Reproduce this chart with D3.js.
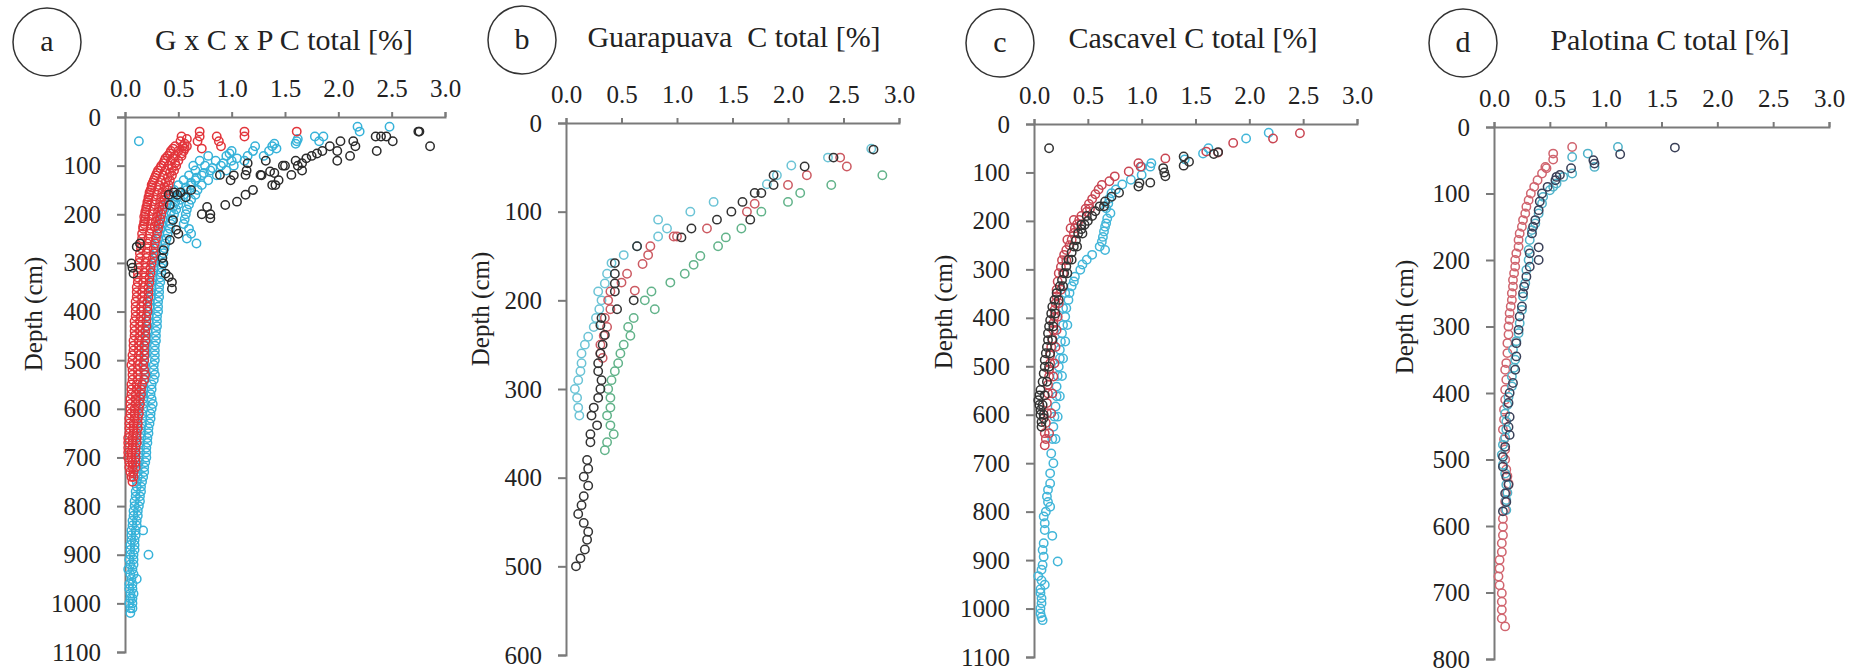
<!DOCTYPE html>
<html>
<head>
<meta charset="utf-8">
<script src="https://cdn.jsdelivr.net/npm/d3@7"></script>
<style>
  body { margin: 0; background: #fff; }
</style>
</head>
<body>
<div id="chart-container"></div>
<script>
// depth profiles of total carbon, four panels side by side
// each row is [depth (cm), C total %, C total %, ...]
const svgWidth = 1865;
const svgHeight = 672;
const serif = "'Liberation Serif', 'Times New Roman', 'DejaVu Serif', serif";

const xTicks = [0, 0.5, 1.0, 1.5, 2.0, 2.5, 3.0];

// ---- panel a : G x C x P ----
const aBlack = [
  [30, 2.75, 2.76], [60, 2.86], [40, 2.35, 2.40, 2.45], [50, 2.51, 2.14, 2.02], [70, 2.36, 1.99, 1.85],
  [60, 2.16, 1.92], [80, 2.11, 1.75], [90, 1.99, 1.60, 1.32], [75, 1.80], [85, 1.70], [95, 1.66, 1.15],
  [100, 1.62, 1.50, 1.48], [110, 1.66, 1.14], [112, 1.36], [115, 1.40], [119, 1.56, 1.27, 1.13, 0.89],
  [120, 1.28, 1.02], [130, 0.99, 1.44], [140, 1.41, 1.38], [150, 1.20, 0.62], [155, 0.52, 0.46],
  [160, 1.13, 0.49, 0.41], [165, 0.57], [174, 1.05], [181, 0.94, 0.42], [185, 0.77], [200, 0.80, 0.72],
  [208, 0.80], [212, 0.45], [232, 0.48], [253, 0.42], [260, 0.14], [267, 0.11], [274, 0.36], [290, 0.35],
  [301, 0.06, 0.36], [310, 0.07], [322, 0.08, 0.38], [329, 0.41], [340, 0.44], [353, 0.44], [240, 0.50]
];
const aCyan = [
  [20, 2.18, 2.48], [30, 2.20], [40, 1.78, 1.86], [45, 1.62], [50, 1.82, 1.61, 0.13], [55, 1.40, 1.60],
  [60, 1.38, 1.22], [65, 1.42], [70, 1.20, 1.35, 1.00], [75, 0.98], [80, 0.95, 1.15, 1.30, 0.78],
  [85, 1.05], [90, 0.85, 1.00, 1.12, 0.70], [95, 0.92], [100, 0.75, 0.90, 1.02, 0.64], [105, 0.82],
  [110, 0.66, 0.80, 0.95], [115, 0.74], [120, 0.60, 0.72, 0.86], [125, 0.67], [130, 0.55, 0.66, 0.78],
  [135, 0.62], [140, 0.50, 0.62, 0.72], [145, 0.57], [150, 0.46, 0.58, 0.68], [155, 0.53],
  [160, 0.43, 0.55, 0.66], [165, 0.49], [170, 0.41, 0.52, 0.62], [175, 0.47], [180, 0.39, 0.50, 0.60],
  [185, 0.45], [190, 0.37, 0.48, 0.58], [195, 0.43], [200, 0.36, 0.46, 0.57], [210, 0.35, 0.44, 0.56],
  [220, 0.34, 0.43, 0.55], [230, 0.33, 0.42, 0.60], [240, 0.32, 0.40, 0.62], [250, 0.31, 0.39, 0.58],
  [260, 0.30, 0.38, 0.67], [270, 0.29, 0.37], [280, 0.29, 0.36], [290, 0.28, 0.35], [300, 0.27, 0.35],
  [310, 0.27, 0.34], [320, 0.26, 0.34], [330, 0.26, 0.33], [340, 0.25, 0.33], [350, 0.25, 0.32],
  [360, 0.24, 0.32], [370, 0.24, 0.32], [380, 0.23, 0.31], [390, 0.23, 0.31], [400, 0.22, 0.31],
  [410, 0.22, 0.30], [420, 0.22, 0.30], [430, 0.21, 0.30], [440, 0.21, 0.29], [450, 0.20, 0.29],
  [460, 0.20, 0.29], [470, 0.19, 0.28], [480, 0.19, 0.28], [490, 0.19, 0.28], [500, 0.18, 0.28],
  [510, 0.18, 0.27], [520, 0.18, 0.27], [530, 0.18, 0.28], [540, 0.18, 0.27], [550, 0.17, 0.25],
  [560, 0.17, 0.25], [570, 0.17, 0.24], [580, 0.17, 0.25], [590, 0.17, 0.26], [600, 0.17, 0.25],
  [610, 0.16, 0.24], [620, 0.16, 0.24], [630, 0.16, 0.23], [640, 0.15, 0.22], [650, 0.15, 0.22],
  [660, 0.15, 0.21], [670, 0.14, 0.21], [680, 0.14, 0.20], [690, 0.14, 0.20], [700, 0.13, 0.20],
  [710, 0.13, 0.19], [720, 0.12, 0.18], [730, 0.12, 0.18], [740, 0.12, 0.17], [750, 0.11, 0.16],
  [760, 0.11, 0.15], [770, 0.10, 0.15], [780, 0.10, 0.14], [790, 0.09, 0.14], [800, 0.09, 0.13],
  [810, 0.08, 0.12], [820, 0.08, 0.12], [830, 0.07, 0.11], [840, 0.07, 0.11], [850, 0.06, 0.10, 0.17],
  [860, 0.06, 0.10], [870, 0.06, 0.09], [880, 0.05, 0.09], [890, 0.05, 0.09], [900, 0.05, 0.08, 0.22],
  [910, 0.04, 0.08], [920, 0.05, 0.08], [930, 0.03, 0.07], [940, 0.05, 0.08], [950, 0.06, 0.11],
  [960, 0.04, 0.07], [970, 0.04, 0.07], [980, 0.05, 0.08], [990, 0.05, 0.07], [1000, 0.04, 0.07],
  [1010, 0.05, 0.07], [1020, 0.05]
];
const aRed = [
  [30, 0.70, 1.12, 1.61], [40, 0.53, 0.70, 0.86, 1.12], [45, 0.58], [50, 0.52, 0.68, 0.88], [55, 0.56],
  [60, 0.47, 0.54, 0.58, 0.90], [65, 0.45, 0.56, 0.72], [70, 0.43, 0.50, 0.55], [75, 0.42, 0.53],
  [80, 0.40, 0.47, 0.53], [85, 0.38, 0.45], [90, 0.37, 0.43, 0.50], [95, 0.36, 0.47],
  [100, 0.34, 0.41, 0.48], [105, 0.33, 0.44], [110, 0.31, 0.38, 0.46], [115, 0.30, 0.42],
  [120, 0.29, 0.36, 0.44], [125, 0.28, 0.40], [130, 0.27, 0.34, 0.42], [135, 0.26, 0.38],
  [140, 0.25, 0.32, 0.41], [145, 0.25, 0.37], [150, 0.24, 0.31, 0.40], [155, 0.23, 0.35],
  [160, 0.23, 0.30, 0.38], [165, 0.22, 0.34], [170, 0.22, 0.29, 0.37], [175, 0.21, 0.33],
  [180, 0.21, 0.28, 0.36], [185, 0.20, 0.32], [190, 0.20, 0.27, 0.35], [195, 0.19, 0.31],
  [200, 0.19, 0.26, 0.34], [205, 0.18, 0.30], [210, 0.19, 0.25, 0.33], [215, 0.18, 0.29],
  [220, 0.18, 0.24, 0.32], [225, 0.17, 0.28], [230, 0.17, 0.24, 0.31], [240, 0.16, 0.23, 0.30],
  [250, 0.16, 0.22, 0.29], [260, 0.15, 0.21, 0.28], [270, 0.15, 0.21, 0.27], [280, 0.14, 0.20, 0.27],
  [290, 0.14, 0.20, 0.26], [300, 0.13, 0.19, 0.25], [310, 0.13, 0.19, 0.24], [320, 0.12, 0.18, 0.24],
  [330, 0.12, 0.18, 0.23], [340, 0.12, 0.17, 0.23], [350, 0.11, 0.17, 0.22], [360, 0.11, 0.16, 0.22],
  [370, 0.11, 0.16, 0.22], [380, 0.10, 0.16, 0.21], [390, 0.10, 0.15, 0.21], [400, 0.10, 0.15, 0.21],
  [410, 0.10, 0.15, 0.20], [420, 0.09, 0.14, 0.20], [430, 0.09, 0.14, 0.20], [440, 0.09, 0.14, 0.19],
  [450, 0.09, 0.14, 0.19], [460, 0.08, 0.13, 0.19], [470, 0.08, 0.13, 0.18], [480, 0.08, 0.13, 0.18],
  [490, 0.07, 0.13, 0.18], [500, 0.07, 0.12, 0.18], [510, 0.06, 0.12, 0.17], [520, 0.07, 0.12, 0.18],
  [530, 0.07, 0.12, 0.19], [540, 0.07, 0.12, 0.18], [550, 0.06, 0.11, 0.16], [560, 0.06, 0.11, 0.15],
  [570, 0.06, 0.10, 0.15], [580, 0.05, 0.10, 0.14], [590, 0.05, 0.10, 0.14], [600, 0.05, 0.09, 0.13],
  [610, 0.05, 0.09, 0.13], [620, 0.04, 0.09, 0.12], [630, 0.04, 0.08, 0.12], [640, 0.04, 0.08, 0.12],
  [650, 0.04, 0.08, 0.11], [660, 0.03, 0.07, 0.11], [670, 0.03, 0.07, 0.11], [680, 0.03, 0.07, 0.10],
  [690, 0.03, 0.06, 0.10], [700, 0.03, 0.06, 0.10], [710, 0.04, 0.07, 0.10], [720, 0.04, 0.07, 0.10],
  [730, 0.05, 0.08], [740, 0.06, 0.08], [750, 0.07]
];

// ---- panel b : Guarapuava ----
const bBlack = [
  [30, 2.77], [39, 2.41], [49, 2.15], [59, 1.87], [70, 1.87], [79, 1.76, 1.70], [89, 1.59], [100, 1.49],
  [109, 1.66, 1.36], [119, 1.13], [129, 1.04], [139, 0.64], [158, 0.44], [170, 0.44], [181, 0.44],
  [190, 0.44], [200, 0.61], [210, 0.46], [220, 0.32], [228, 0.31], [239, 0.35], [250, 0.33], [260, 0.31],
  [271, 0.29], [280, 0.29], [290, 0.32], [300, 0.31], [310, 0.29], [321, 0.25], [330, 0.23], [341, 0.28],
  [351, 0.22], [360, 0.22], [380, 0.19], [390, 0.20], [399, 0.16], [409, 0.20], [421, 0.16], [431, 0.14],
  [441, 0.11], [451, 0.16], [461, 0.20], [470, 0.19], [481, 0.17], [491, 0.13], [500, 0.09]
];
const bRed = [
  [39, 2.47], [49, 2.53], [59, 2.17], [70, 2.00], [91, 1.70], [100, 1.63], [119, 1.27], [128, 1.00, 0.97],
  [139, 0.76], [149, 0.74], [159, 0.69], [170, 0.55], [180, 0.50], [189, 0.62], [190, 0.40], [200, 0.38],
  [210, 0.40], [220, 0.35], [230, 0.37], [240, 0.34], [250, 0.31], [260, 0.31], [265, 0.33]
];
const bCyan = [
  [29, 2.75], [39, 2.36], [48, 2.03], [59, 1.90], [69, 1.81], [89, 1.33], [100, 1.12], [109, 0.83],
  [119, 0.91], [128, 0.83], [139, 0.64], [149, 0.52], [158, 0.41], [170, 0.37], [181, 0.35], [190, 0.29],
  [200, 0.32], [210, 0.30], [220, 0.27], [230, 0.25], [241, 0.20], [250, 0.17], [260, 0.14], [271, 0.14],
  [280, 0.13], [290, 0.11], [300, 0.08], [310, 0.10], [321, 0.11], [330, 0.12]
];
const bGreen = [
  [59, 2.85], [70, 2.39], [79, 2.11], [89, 2.00], [100, 1.76], [119, 1.58], [129, 1.44], [139, 1.37],
  [150, 1.21], [160, 1.15], [170, 1.07], [180, 0.94], [190, 0.77], [200, 0.71], [210, 0.80], [220, 0.61],
  [230, 0.56], [240, 0.58], [250, 0.52], [260, 0.49], [271, 0.47], [280, 0.44], [290, 0.41], [300, 0.38],
  [310, 0.40], [321, 0.40], [330, 0.37], [341, 0.40], [351, 0.43], [360, 0.37], [369, 0.35]
];

// ---- panel c : Cascavel ----
const cBlack = [
  [50, 0.14], [58, 1.71], [62, 1.67], [67, 1.39], [78, 1.44], [86, 1.39], [91, 1.20], [100, 1.21],
  [108, 1.22], [121, 1.08], [122, 0.98], [129, 0.97], [142, 0.79], [150, 0.72], [160, 0.66],
  [170, 0.61, 0.65], [180, 0.57], [190, 0.54, 0.49], [200, 0.50], [208, 0.47, 0.44], [217, 0.44],
  [226, 0.41, 0.45], [240, 0.39], [253, 0.37, 0.40], [265, 0.35], [280, 0.32, 0.35], [294, 0.30],
  [308, 0.28, 0.31], [322, 0.26], [335, 0.24, 0.27], [349, 0.21], [363, 0.19, 0.23], [377, 0.17],
  [391, 0.16, 0.20], [405, 0.15], [418, 0.14, 0.18], [432, 0.13], [446, 0.13, 0.17], [460, 0.12],
  [473, 0.11, 0.15], [487, 0.10], [501, 0.10, 0.14], [515, 0.09], [532, 0.08, 0.12], [549, 0.06],
  [560, 0.05, 0.10], [570, 0.04], [580, 0.05, 0.08], [590, 0.06], [600, 0.06, 0.09], [607, 0.09],
  [615, 0.07], [625, 0.07]
];
const cRed = [
  [19, 2.47], [30, 2.22], [39, 1.85], [57, 1.60], [59, 1.71], [71, 1.22], [81, 0.97], [88, 0.99],
  [98, 0.88], [108, 0.75], [118, 0.70], [126, 0.63], [135, 0.60], [145, 0.57], [155, 0.54], [165, 0.51],
  [175, 0.48, 0.52], [181, 0.49], [190, 0.44], [198, 0.37, 0.42], [207, 0.40], [215, 0.38, 0.34],
  [225, 0.37], [239, 0.35, 0.31], [250, 0.33], [260, 0.30], [270, 0.28], [281, 0.26, 0.30], [295, 0.25],
  [308, 0.23, 0.27], [325, 0.22], [342, 0.21, 0.25], [356, 0.21], [370, 0.20, 0.23], [384, 0.19],
  [398, 0.19, 0.22], [411, 0.18], [425, 0.18, 0.21], [443, 0.17], [460, 0.16, 0.20], [477, 0.15],
  [494, 0.15, 0.19], [507, 0.14], [521, 0.14, 0.18], [538, 0.13], [556, 0.13, 0.17], [576, 0.12],
  [597, 0.12, 0.16], [617, 0.11], [638, 0.10, 0.14], [650, 0.11], [663, 0.10]
];
const cCyan = [
  [18, 2.18], [30, 1.97], [50, 1.62], [61, 1.57], [73, 1.40], [81, 1.09], [88, 1.00, 1.08], [105, 1.00],
  [115, 0.90], [125, 0.82], [135, 0.76], [143, 0.72], [154, 0.70], [164, 0.69], [174, 0.67], [184, 0.71],
  [195, 0.68], [205, 0.67], [212, 0.66], [222, 0.65], [233, 0.64], [243, 0.63], [253, 0.61], [260, 0.66],
  [270, 0.54], [280, 0.49], [290, 0.45], [301, 0.43], [315, 0.38], [325, 0.37], [335, 0.35],
  [349, 0.33, 0.29], [363, 0.32], [380, 0.30, 0.27], [398, 0.29], [415, 0.27, 0.31], [432, 0.26],
  [449, 0.25, 0.29], [466, 0.24], [484, 0.24, 0.27], [501, 0.23], [520, 0.22, 0.26], [542, 0.21],
  [562, 0.21, 0.24], [583, 0.20], [604, 0.19, 0.22], [625, 0.18], [650, 0.17, 0.20], [680, 0.16],
  [700, 0.18], [721, 0.15], [742, 0.15], [755, 0.13], [769, 0.12], [780, 0.13], [790, 0.15], [800, 0.11],
  [810, 0.09], [824, 0.10], [838, 0.10], [850, 0.17], [865, 0.09], [879, 0.08], [893, 0.09], [903, 0.22],
  [910, 0.08], [920, 0.07], [933, 0.04], [942, 0.07], [951, 0.10], [960, 0.06], [968, 0.06], [979, 0.07],
  [989, 0.07], [1000, 0.06], [1010, 0.06], [1018, 0.07], [1024, 0.08]
];

// ---- panel d : Palotina ----
const dRed = [
  [30, 0.70], [40, 0.53], [49, 0.53], [60, 0.46], [62, 0.47], [70, 0.43], [80, 0.39], [90, 0.36],
  [100, 0.33], [110, 0.31], [120, 0.29], [130, 0.28], [140, 0.26], [150, 0.25], [160, 0.23], [170, 0.22],
  [180, 0.22], [190, 0.20], [200, 0.19], [210, 0.19], [220, 0.18], [230, 0.17], [240, 0.17], [250, 0.16],
  [260, 0.16], [270, 0.15], [280, 0.14], [290, 0.14], [300, 0.13], [312, 0.13], [325, 0.12], [340, 0.12],
  [355, 0.11], [365, 0.10], [380, 0.11], [395, 0.10], [410, 0.10], [425, 0.09], [440, 0.09], [455, 0.08],
  [470, 0.09], [485, 0.10], [500, 0.10], [515, 0.11], [525, 0.12], [536, 0.13], [550, 0.11], [563, 0.10],
  [576, 0.10], [589, 0.08], [601, 0.08], [614, 0.08], [626, 0.07], [639, 0.07], [651, 0.05], [664, 0.05],
  [676, 0.04], [689, 0.05], [701, 0.07], [714, 0.07], [726, 0.07], [739, 0.07], [751, 0.10]
];
const dCyan = [
  [30, 1.11], [40, 0.84], [45, 0.70], [60, 0.90], [70, 0.70], [75, 0.62], [85, 0.56], [90, 0.53],
  [95, 0.50], [105, 0.44], [115, 0.43], [130, 0.40], [145, 0.37], [155, 0.34], [170, 0.32], [185, 0.31],
  [200, 0.31], [215, 0.29], [235, 0.28], [255, 0.26], [275, 0.25], [295, 0.23], [310, 0.22], [322, 0.20],
  [335, 0.17], [350, 0.19], [362, 0.18], [375, 0.16], [390, 0.16], [406, 0.13], [418, 0.12], [431, 0.10],
  [443, 0.11], [455, 0.11], [467, 0.10], [478, 0.08], [493, 0.07], [508, 0.08], [521, 0.10], [538, 0.11],
  [550, 0.12], [561, 0.11], [576, 0.11]
];
const dBlack = [
  [31, 1.62], [41, 1.13], [50, 0.89], [55, 0.90], [62, 0.69], [72, 0.59], [75, 0.56], [80, 0.55],
  [90, 0.48], [100, 0.43], [112, 0.41], [125, 0.40], [140, 0.37], [150, 0.35], [160, 0.34], [181, 0.40],
  [200, 0.40], [190, 0.32], [210, 0.32], [225, 0.29], [240, 0.27], [250, 0.26], [270, 0.25], [285, 0.23],
  [305, 0.22], [325, 0.20], [345, 0.20], [365, 0.19], [385, 0.17], [400, 0.14], [415, 0.13], [436, 0.14],
  [451, 0.13], [463, 0.14], [481, 0.10], [496, 0.08], [511, 0.08], [526, 0.11], [538, 0.13], [551, 0.10],
  [564, 0.11], [578, 0.08]
];

const panels = [
  { letter: "a", title: "G x C x P C total [%]", yMax: 1100, left: 125, right: 445, top: 117, bottom: 652,
    circle: [47, 42], titleX: 284, titleY: 50, labelX: 33, labelY: 314,
    series: [[aCyan, "#36b2d9"], [aRed, "#e2353b"], [aBlack, "#2b2b2b"]] },
  { letter: "b", title: "Guarapuava  C total [%]", yMax: 600, left: 566, right: 899, top: 123, bottom: 655,
    circle: [522, 40], titleX: 734, titleY: 47, labelX: 480, labelY: 309,
    series: [[bGreen, "#62b38a"], [bCyan, "#6cc4d6"], [bRed, "#cc5a62"], [bBlack, "#333333"]] },
  { letter: "c", title: "Cascavel C total [%]", yMax: 1100, left: 1034, right: 1357, top: 124, bottom: 657,
    circle: [1000, 43], titleX: 1193, titleY: 48, labelX: 943, labelY: 312,
    series: [[cCyan, "#42b6d9"], [cRed, "#c94552"], [cBlack, "#333333"]] },
  { letter: "d", title: "Palotina C total [%]", yMax: 800, left: 1494, right: 1829, top: 127, bottom: 659,
    circle: [1463, 43], titleX: 1670, titleY: 50, labelX: 1404, labelY: 317,
    series: [[dRed, "#d0646e"], [dCyan, "#4fb2c9"], [dBlack, "#3a4058"]] }
];

const svg = d3.select("#chart-container")
  .append("svg")
  .attr("width", svgWidth)
  .attr("height", svgHeight)
  .style("font-family", serif);

// flatten the rows into one point per value
function toPoints(rows) {
  return rows.flatMap(r => r.slice(1).map(v => ({ depth: r[0], c: v })));
}

panels.forEach(p => {
  const g = svg.append("g");
  const x = d3.scaleLinear().domain([0, 3]).range([p.left, p.right]);
  const y = d3.scaleLinear().domain([0, p.yMax]).range([p.top, p.bottom]);

  // x axis sits on top
  const xAxis = g.append("g")
    .attr("transform", `translate(0,${p.top})`)
    .call(d3.axisTop(x).tickValues(xTicks).tickFormat(d3.format(".1f")).tickSize(5).tickPadding(15));
  const yAxis = g.append("g")
    .attr("transform", `translate(${p.left},0)`)
    .call(d3.axisLeft(y).tickValues(d3.range(0, p.yMax + 1, 100)).tickFormat(d3.format("d"))
      .tickSize(8).tickPadding(16));

  [xAxis, yAxis].forEach(ax => {
    ax.attr("font-size", 25);
    ax.selectAll("path, line").attr("stroke", "#7a7a7a").attr("stroke-width", 2);
    ax.selectAll("text").attr("fill", "#222").style("font-family", serif);
  });

  // open circle markers
  p.series.forEach(([rows, color]) => {
    g.append("g")
      .selectAll("circle")
      .data(toPoints(rows))
      .join("circle")
      .attr("cx", d => x(d.c))
      .attr("cy", d => y(d.depth))
      .attr("r", 4.2)
      .attr("fill", "none")
      .attr("stroke", color)
      .attr("stroke-width", 1.5);
  });

  g.append("text")
    .attr("x", p.titleX)
    .attr("y", p.titleY)
    .attr("text-anchor", "middle")
    .attr("font-size", 30)
    .attr("fill", "#222")
    .style("font-family", serif)
    .style("white-space", "pre")
    .text(p.title);

  // the circled panel letter
  g.append("circle")
    .attr("cx", p.circle[0])
    .attr("cy", p.circle[1])
    .attr("r", 34)
    .attr("fill", "none")
    .attr("stroke", "#333")
    .attr("stroke-width", 1.5);
  g.append("text")
    .attr("x", p.circle[0])
    .attr("y", p.circle[1] + 9)
    .attr("text-anchor", "middle")
    .attr("font-size", 30)
    .attr("fill", "#222")
    .style("font-family", serif)
    .text(p.letter);

  g.append("text")
    .attr("transform", `translate(${p.labelX},${p.labelY}) rotate(-90)`)
    .attr("text-anchor", "middle")
    .attr("dy", "0.35em")
    .attr("font-size", 25)
    .attr("fill", "#222")
    .style("font-family", serif)
    .text("Depth (cm)");
});
</script>
</body>
</html>
